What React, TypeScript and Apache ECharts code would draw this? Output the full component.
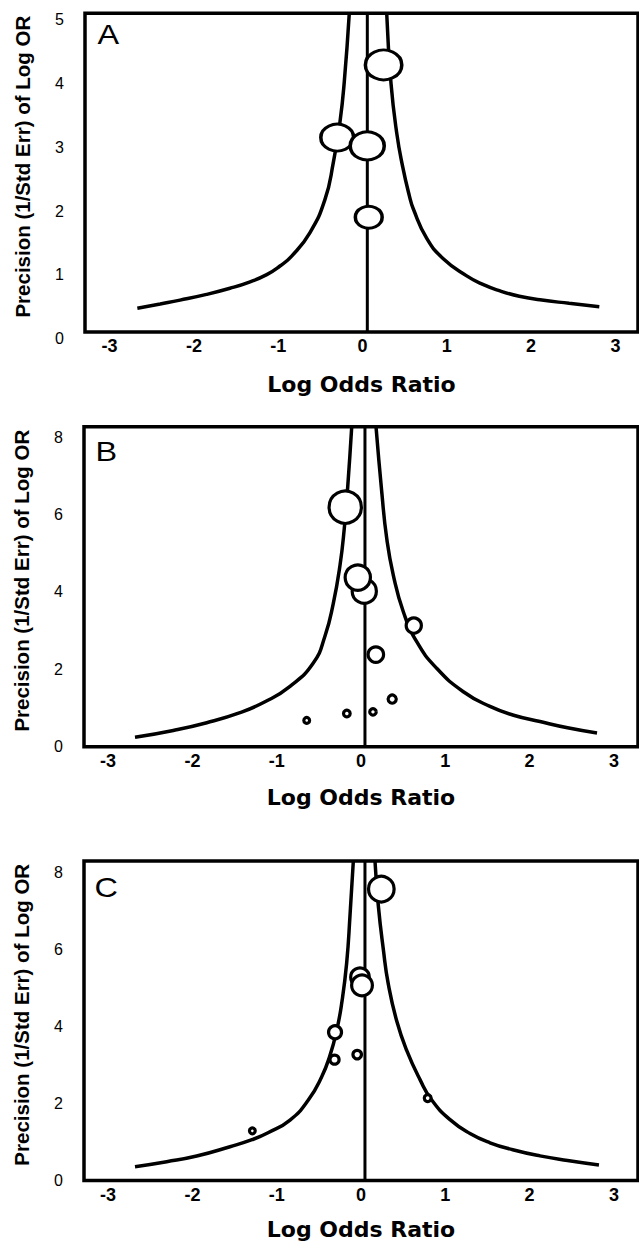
import React, { useEffect, useRef } from "react";
import * as echarts from "echarts";

// ---------- shared texts / ticks ----------
const xTickLabels = [-3, -2, -1, 0, 1, 2, 3];
const aYTickLabels = [0, 1, 2, 3, 4, 5];
const bcYTickLabels = [0, 2, 4, 6, 8];
const panelLetters = ["A", "B", "C"];
const xTitle = "Log Odds Ratio";
const yTitle = "Precision (1/Std Err) of Log OR";

// ---------- Panel A ----------
const aStudyLogOR = [0.25, -0.3, 0.056, 0.074];
const aStudyPrecision = [4.19, 3.05, 2.92, 1.8];
const aStudyWeight = [33, 30, 31, 25];
const aPooled = 0.057;
const aLeftX = [-2.671, -2.4, -2.165, -1.85, -1.572, -1.35, -1.136, -0.979, -0.84, -0.623, -0.445, -0.346, -0.267, -0.216, -0.157];
const aLeftY = [0.372, 0.44, 0.5, 0.59, 0.686, 0.78, 0.9, 1.035, 1.19, 1.56, 2.08, 2.66, 3.3, 3.93, 5.0];
const aRightX = [0.287, 0.338, 0.406, 0.477, 0.555, 0.603, 0.762, 0.958, 1.236, 1.42, 1.631, 1.86, 2.105, 2.45, 2.809];
const aRightY = [5.0, 3.9, 3.12, 2.59, 2.14, 1.93, 1.47, 1.15, 0.88, 0.75, 0.645, 0.56, 0.505, 0.45, 0.397];

// ---------- Panel B ----------
const bStudyLogOR = [-0.187, 0.039, -0.038, 0.626, 0.176, 0.37, 0.142, -0.168, -0.644];
const bStudyPrecision = [6.19, 4.02, 4.37, 3.13, 2.38, 1.23, 0.9, 0.86, 0.68];
const bStudyWeight = [35.5, 27.4, 28.5, 18.4, 18.7, 11.4, 9.7, 9.9, 9.0];
const bPooled = 0.047;
const bLeftX = [-2.681, -2.227, -1.83, -1.435, -1.139, -0.842, -0.566, -0.427, -0.329, -0.249, -0.198, -0.158, -0.11];
const bLeftY = [0.243, 0.42, 0.62, 0.88, 1.16, 1.56, 2.16, 2.86, 3.7, 4.69, 5.65, 6.7, 8.27];
const bRightX = [0.178, 0.246, 0.305, 0.383, 0.502, 0.661, 0.898, 1.214, 1.53, 1.8, 2.123, 2.45, 2.8];
const bRightY = [8.27, 6.589, 5.385, 4.437, 3.488, 2.713, 2.026, 1.421, 1.04, 0.82, 0.65, 0.49, 0.354];

// ---------- Panel C ----------
const cStudyLogOR = [0.241, -0.012, 0.012, -0.308, -0.314, -0.045, 0.791, -1.289];
const cStudyPrecision = [7.57, 5.28, 5.07, 3.85, 3.14, 3.27, 2.14, 1.29];
const cStudyWeight = [28.8, 21.8, 24, 16.2, 12.3, 11.7, 10, 9];
const cPooled = 0.047;
const cLeftX = [-2.681, -2.305, -1.949, -1.554, -1.293, -1.103, -0.842, -0.625, -0.466, -0.368, -0.288, -0.229, -0.17, -0.13, -0.091];
const cLeftY = [0.358, 0.488, 0.636, 0.878, 1.06, 1.24, 1.571, 2.091, 2.696, 3.25, 3.9, 4.603, 5.65, 6.9, 8.3];
const cRightX = [0.166, 0.205, 0.265, 0.324, 0.423, 0.542, 0.7, 0.839, 1.056, 1.293, 1.53, 1.8, 2.123, 2.45, 2.823];
const cRightY = [8.3, 7.15, 6.0, 5.1, 4.15, 3.38, 2.62, 2.09, 1.58, 1.22, 0.98, 0.8, 0.64, 0.52, 0.403];

const FONT = '"Liberation Sans", Arial, Helvetica, sans-serif';

const zip = (xs: number[], ys: number[]) => xs.map((x, i) => [x, ys[i]]);

export default function App() {
  const ref = useRef<HTMLDivElement>(null);

  useEffect(() => {
    if (!ref.current) return;
    const chart = echarts.init(ref.current, null, { renderer: "svg" });

    const panels = [
      {
        grid: { left: 85, top: 13.3, width: 553, height: 318.7 },
        xMin: -3.292, xMax: 3.268, yMax: 5, yTicks: aYTickLabels, shiftDown: true, nameGap: 41,
        sx: aStudyLogOR, sy: aStudyPrecision, sw: aStudyWeight, aspect: 1.2,
        pooled: aPooled, lx: aLeftX, ly: aLeftY, rx: aRightX, ry: aRightY,
        letter: { x: 97.5, y: 34 },
      },
      {
        grid: { left: 84, top: 426.7, width: 554, height: 320 },
        xMin: -3.286, xMax: 3.286, yMax: 8.27, yTicks: bcYTickLabels, shiftDown: false, nameGap: 40,
        sx: bStudyLogOR, sy: bStudyPrecision, sw: bStudyWeight, aspect: 1.0,
        pooled: bPooled, lx: bLeftX, ly: bLeftY, rx: bRightX, ry: bRightY,
        letter: { x: 95.5, y: 451 },
      },
      {
        grid: { left: 84, top: 861, width: 554, height: 319.5 },
        xMin: -3.286, xMax: 3.286, yMax: 8.3, yTicks: bcYTickLabels, shiftDown: false, nameGap: 38,
        sx: cStudyLogOR, sy: cStudyPrecision, sw: cStudyWeight, aspect: 1.0,
        pooled: cPooled, lx: cLeftX, ly: cLeftY, rx: cRightX, ry: cRightY,
        letter: { x: 94.5, y: 887.5 },
      },
    ];

    const grid: any[] = [];
    const xAxis: any[] = [];
    const yAxis: any[] = [];
    const series: any[] = [];
    const graphic: any[] = [];

    panels.forEach((p, i) => {
      grid.push({
        ...p.grid,
        show: true,
        borderColor: "#000",
        borderWidth: 3.5,
        backgroundColor: "transparent",
        containLabel: false,
      });
      xAxis.push({
        type: "value",
        gridIndex: i,
        min: p.xMin,
        max: p.xMax,
        axisLine: { show: false },
        axisTick: { show: false },
        splitLine: { show: false },
        axisLabel: {
          customValues: xTickLabels,
          color: "#000",
          fontFamily: FONT,
          fontWeight: "bold",
          fontSize: 18,
          margin: 5,
          formatter: (v: number) => String(Math.round(v)),
        },
        name: xTitle,
        nameLocation: "middle",
        nameGap: p.nameGap,
        nameTextStyle: {
          color: "#000",
          fontFamily: '"DejaVu Sans", Verdana, sans-serif',
          fontWeight: "bold",
          fontSize: 22,
        },
      });
      const yLabel: any = {
        customValues: p.yTicks,
        color: "#000",
        fontFamily: FONT,
        fontSize: 16,
        margin: 21,
        formatter: (v: number) => String(Math.round(v)),
      };
      if (p.shiftDown) {
        yLabel.verticalAlign = "top";
        yLabel.lineHeight = 13;
      }
      yAxis.push({
        type: "value",
        gridIndex: i,
        min: 0,
        max: p.yMax,
        axisLine: { show: false },
        axisTick: { show: false },
        splitLine: { show: false },
        axisLabel: yLabel,
        name: yTitle,
        nameLocation: "middle",
        nameRotate: 90,
        nameGap: 52,
        nameTextStyle: {
          color: "#000",
          fontFamily: FONT,
          fontWeight: "bold",
          fontSize: 20.5,
          padding: [0, 0, 0, 12],
        },
      });
      const lineBase = {
        type: "line",
        xAxisIndex: i,
        yAxisIndex: i,
        showSymbol: false,
        symbol: "none",
        silent: true,
        clip: true,
        z: 2,
      };
      series.push({
        ...lineBase,
        data: [
          [p.pooled, 0],
          [p.pooled, p.yMax],
        ],
        lineStyle: { color: "#000", width: 3 },
      });
      series.push({ ...lineBase, smooth: 0.5, data: zip(p.lx, p.ly), lineStyle: { color: "#000", width: 3.5 } });
      series.push({ ...lineBase, smooth: 0.5, data: zip(p.rx, p.ry), lineStyle: { color: "#000", width: 3.5 } });
      const aspect = p.aspect;
      series.push({
        type: "scatter",
        xAxisIndex: i,
        yAxisIndex: i,
        silent: true,
        z: 5,
        symbol: "circle",
        symbolSize: (val: number[]) => [val[2] * aspect - 3.2, val[2] - 3.2],
        data: p.sx.map((x, k) => [x, p.sy[k], p.sw[k]]),
        itemStyle: { color: "#fff", borderColor: "#000", borderWidth: 3.2, opacity: 1 },
      });
      graphic.push({
        type: "text",
        x: p.letter.x,
        y: p.letter.y,
        scaleX: 1.2,
        silent: true,
        style: {
          text: panelLetters[i],
          font: `27px ${FONT}`,
          fill: "#000",
          align: "left",
          verticalAlign: "middle",
        },
      });
    });

    chart.setOption({
      animation: false,
      backgroundColor: "#fff",
      grid,
      xAxis,
      yAxis,
      series,
      graphic,
    });

    return () => chart.dispose();
  }, []);

  return (
    <div
      ref={ref}
      style={{ position: "absolute", left: 0, top: 0, width: 639, height: 1243, background: "#fff" }}
    />
  );
}
